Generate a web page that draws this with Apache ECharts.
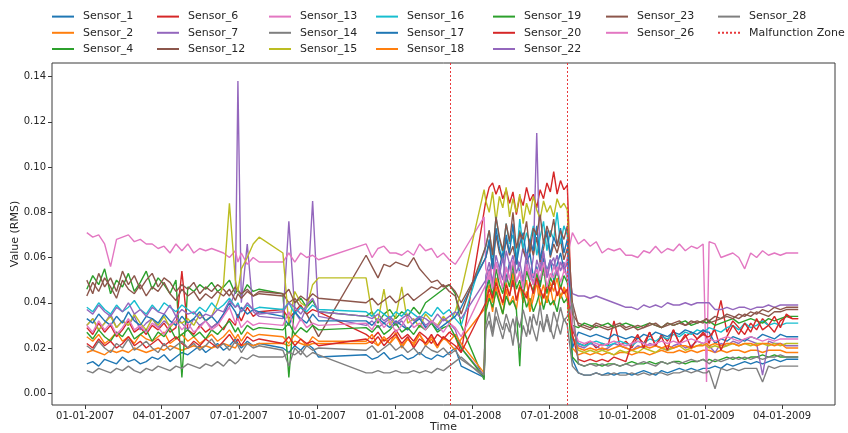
<!DOCTYPE html>
<html>
<head>
<meta charset="utf-8">
<script src="https://cdn.jsdelivr.net/npm/echarts/dist/echarts.min.js"></script>
<style>
html,body{margin:0;padding:0;background:#fff;}
#chart{width:848px;height:433px;}
</style>
</head>
<body>
<div id="chart"></div>
<script>
// ---------- DATA ----------
const dates = [
 '2007-01-03','2007-01-10','2007-01-17','2007-01-24','2007-01-31','2007-02-07','2007-02-14','2007-02-21','2007-02-28','2007-03-07',
 '2007-03-14','2007-03-21','2007-03-28','2007-04-04','2007-04-11','2007-04-18','2007-04-25','2007-05-02','2007-05-09','2007-05-16',
 '2007-05-23','2007-05-30','2007-06-06','2007-06-13','2007-06-20','2007-06-27','2007-06-30','2007-07-04','2007-07-11','2007-07-18',
 '2007-07-25','2007-08-01','2007-08-08','2007-08-15','2007-08-22','2007-08-29','2007-09-05','2007-09-12','2007-09-19','2007-09-26',
 '2007-10-03',
 '2007-11-28','2007-12-05','2007-12-12','2007-12-19','2007-12-26','2008-01-02','2008-01-09','2008-01-16','2008-01-23','2008-01-30',
 '2008-02-06','2008-02-13','2008-02-20','2008-02-27','2008-03-05','2008-03-12','2008-03-19',
 '2008-04-15','2008-04-17','2008-04-21','2008-04-25','2008-04-29','2008-05-03','2008-05-07','2008-05-11','2008-05-15','2008-05-19',
 '2008-05-23','2008-05-27','2008-05-31','2008-06-04','2008-06-08','2008-06-12','2008-06-16','2008-06-20','2008-06-24','2008-06-28',
 '2008-07-02','2008-07-06','2008-07-10','2008-07-14','2008-07-18','2008-07-22',
 '2008-07-28','2008-08-04','2008-08-11','2008-08-18','2008-08-25','2008-09-01','2008-09-08','2008-09-15','2008-09-22','2008-09-29',
 '2008-10-06','2008-10-13','2008-10-20','2008-10-27','2008-11-03','2008-11-10','2008-11-17','2008-11-24','2008-12-01','2008-12-08',
 '2008-12-15','2008-12-22','2008-12-29','2009-01-02','2009-01-05','2009-01-12','2009-01-19','2009-01-26','2009-02-02','2009-02-09',
 '2009-02-16','2009-02-23','2009-03-02','2009-03-09','2009-03-16','2009-03-23','2009-03-30','2009-04-06','2009-04-13','2009-04-20'
];

const sensorNames = ['Sensor_1','Sensor_2','Sensor_4','Sensor_6','Sensor_7','Sensor_12','Sensor_13','Sensor_14','Sensor_15',
  'Sensor_16','Sensor_17','Sensor_18','Sensor_19','Sensor_20','Sensor_22','Sensor_23','Sensor_26','Sensor_28'];

const sensor1 = [
 .013,.014,.012,.015,.014,.013,.016,.014,.015,.013, .014,.016,.015,.017,.014,.016,.018,.017,.019,.021,
 .018,.020,.022,.019,.021,.024,.022,.020,.023,.021, .022,null,null,null,.020,.018,.021,.019,.022,.020, .016,
 .017,.015,.016,.018,.015,.016,.017,.015,.016,.018, .016,.015,.017,.016,.018,.020,.012,
 .007,.045,.052,.060,.048,.055,.063,.050,.058,.047, .061,.053,.049,.057,.062,.051,.056,.048,.060,.054, .059,.050,.057,.062,.055,.058,
 .015,.009,.008,.008,.009,.008,.009,.008,.009,.009, .008,.009,.010,.009,.008,.010,.009,.010,.011,.010,
 .011,.010,.011,.011,.011,.012,.011,.013,.012,.013, .014,.013,.014,.013,.014,.015,.014,.015,.015,.015];
const sensor2 = [
 .018,.019,.018,.017,.019,.018,.019,.018,.020,.019, .018,.019,.020,.019,.021,.020,.019,.020,.021,.020,
 .021,.020,.021,.022,.021,.020,.022,.021,.022,.021, .022,null,null,null,.022,.021,.023,.022,.021,.022, .022,
 .022,.023,.021,.024,.022,.025,.021,.024,.022,.026, .021,.024,.020,.025,.022,.019,.024,
 null,.038,.044,.036,.047,.041,.035,.046,.039,.043, .037,.048,.040,.045,.036,.042,.049,.038,.044,.040, .047,.039,.045,.042,.046,.041,
 .020,.017,.018,.017,.018,.017,.018,.017,.018,.018, .017,.018,.018,.017,.018,.019,.018,.018,.019,.018,
 .019,.018,.019,.019,.019,.018,.019,.018,.019,.019, .018,.019,.019,.018,.019,.019,.019,.018,.018,.018];
const sensor4 = [
 .046,.052,.048,.055,.044,.050,.047,.053,.045,.049, .054,.046,.051,.048,.044,.050,.007,.047,.045,.048,
 .046,.049,.045,.047,.050,.044,.046,.043,.048,.045, .046,null,null,null,.044,.007,.040,.042,.038,.041, .036,
 .034,.036,.031,.035,.037,.033,.036,.034,.038,.035, .040,.042,.044,.046,.048,.044,.030,
 .006,.036,.042,.038,.045,.040,.035,.043,.039,.041, .037,.012,.044,.038,.042,.036,.040,.045,.037,.043, .039,.041,.036,.044,.040,.042,
 .016,.013,.012,.013,.013,.012,.013,.013,.012,.013, .014,.013,.013,.014,.013,.014,.013,.014,.014,.013,
 .014,.014,.015,.014,.015,.014,.015,.016,.015,.016, .015,.016,.016,.017,.016,.017,.016,.016,.016,.016];
const sensor6 = [
 .029,.026,.031,.027,.030,.025,.028,.032,.027,.029, .026,.030,.028,.031,.027,.029,.054,.028,.026,.030,
 .027,.029,.031,.028,.033,.030,.035,.032,.038,.034, .036,null,null,null,.037,.033,.036,.039,.035,.037, .036,
 .026,.024,.027,.023,.025,.028,.024,.026,.023,.027, .025,.022,.026,.024,.027,.025,.018,
 null,.085,.091,.093,.088,.092,.086,.090,.084,.089, .079,.087,.083,.091,.085,.088,.082,.090,.086,.093, .089,.098,.088,.094,.090,.092,
 .028,.022,.021,.023,.020,.022,.021,.032,.021,.023, .020,.025,.022,.027,.021,.026,.023,.028,.022,.025,
 .027,.024,.026,.025,.022,.030,.041,.027,.032,.029, .026,.031,.028,.033,.030,.027,.032,.034,.033,.033];
const sensor7 = [
 .030,.033,.028,.031,.035,.029,.032,.030,.034,.028, .031,.033,.029,.032,.030,.034,.031,.028,.033,.030,
 .032,.029,.031,.035,.038,.045,.138,.040,.066,.036, .034,null,null,null,.033,.076,.036,.032,.038,.085, .034,
 .030,.032,.029,.031,.033,.030,.032,.028,.031,.034, .030,.032,.029,.033,.031,.028,.020,
 .008,.052,.058,.049,.061,.055,.050,.063,.057,.052, .060,.056,.065,.058,.051,.060,.115,.055,.062,.053, .059,.056,.061,.054,.058,.050,
 .030,.021,.020,.022,.021,.019,.020,.022,.021,.020, .019,.021,.020,.022,.021,.020,.019,.021,.022,.020,
 .021,.023,.022,.021,.021,.018,.022,.021,.023,.022, .024,.023,.022,.008,.023,.022,.022,.021,.021,.021];
const sensor12 = [
 .050,.044,.053,.047,.051,.045,.054,.048,.052,.046, .050,.053,.047,.051,.049,.045,.048,.046,.049,.044,
 .047,.045,.048,.046,.043,.047,.045,.044,.046,.043, .045,null,null,null,.044,.040,.042,.038,.035,.030, .025,
 .061,.056,.051,.057,.056,.058,.057,.056,.060,.055, .052,.049,.050,.047,.048,.045,.040,
 null,.060,.066,.055,.070,.062,.058,.068,.061,.065, .057,.072,.063,.059,.067,.061,.069,.058,.064,.071, .060,.066,.062,.068,.059,.064,
 .035,.031,.030,.029,.031,.030,.029,.030,.031,.029, .030,.028,.029,.030,.031,.029,.030,.031,.032,.030,
 .031,.032,.031,.033,.032,.034,.033,.035,.034,.033, .035,.034,.036,.035,.034,.036,.036,.037,.037,.037];
const sensor13 = [
 .071,.069,.070,.066,.056,.068,.069,.070,.067,.068, .066,.066,.064,.065,.062,.066,.063,.066,.062,.064,
 .063,.064,.063,.062,.060,.063,.058,.062,.057,.060, .058,null,null,null,.058,.062,.058,.062,.060,.061, .059,
 .066,.060,.064,.065,.062,.062,.061,.063,.061,.066, .063,.064,.060,.062,.059,.057,.061,
 .078,.055,.050,.057,.048,.053,.046,.055,.051,.058, .049,.054,.047,.056,.050,.053,.048,.057,.052,.055, .050,.056,.053,.058,.054,.060,
 .071,.066,.068,.065,.067,.062,.064,.063,.064,.061, .061,.060,.063,.062,.065,.062,.064,.063,.066,.063,
 .065,.064,.066,.005,.067,.066,.060,.061,.062,.060, .055,.062,.060,.063,.061,.062,.061,.062,.062,.062];
const sensor14 = [
 .010,.009,.011,.010,.009,.011,.010,.012,.010,.009, .011,.010,.012,.011,.010,.012,.011,.013,.012,.011,
 .013,.012,.014,.012,.015,.013,.014,.016,.015,.017, .016,null,null,null,.016,.018,.017,.019,.016,.018, .017,
 .009,.009,.010,.009,.009,.010,.009,.009,.010,.009, .010,.009,.011,.010,.012,.014,.016,
 .007,.028,.032,.025,.034,.029,.024,.031,.027,.033, .026,.020,.030,.025,.034,.028,.023,.032,.027,.035, .029,.024,.031,.026,.033,.030,
 .012,.009,.008,.008,.009,.008,.008,.009,.008,.008, .009,.008,.009,.008,.009,.009,.008,.009,.009,.010,
 .009,.010,.009,.009,.010,.002,.011,.010,.011,.010, .011,.011,.011,.005,.012,.011,.012,.012,.012,.012];
const sensor15 = [
 .030,.033,.028,.031,.034,.029,.032,.030,.035,.031, .028,.033,.030,.034,.029,.032,.031,.033,.030,.035,
 .032,.034,.040,.048,.084,.050,.045,.055,.060,.066, .069,null,null,null,.062,.030,.045,.040,.038,.048, .051,
 .051,.035,.032,.046,.030,.034,.047,.031,.033,.029, .035,.032,.030,.034,.031,.036,.045,
 .090,.085,.080,.089,.076,.087,.082,.091,.078,.086, .080,.088,.075,.084,.079,.087,.081,.077,.085,.080, .083,.078,.086,.082,.084,.081,
 .025,.019,.018,.019,.018,.019,.018,.017,.019,.018, .019,.018,.020,.019,.018,.020,.019,.020,.021,.019,
 .020,.021,.022,.021,.020,.021,.020,.021,.022,.021, .022,.021,.022,.022,.021,.022,.021,.022,.022,.022];
const sensor16 = [
 .038,.036,.040,.037,.035,.039,.036,.038,.041,.037, .035,.039,.036,.040,.038,.036,.039,.037,.035,.038,
 .036,.040,.037,.039,.042,.038,.040,.036,.039,.037, .038,null,null,null,.037,.040,.035,.038,.036,.039, .037,
 .036,.034,.037,.035,.033,.036,.034,.037,.035,.033, .036,.034,.038,.035,.037,.033,.030,
 null,.065,.072,.060,.078,.068,.062,.075,.066,.070, .059,.077,.064,.071,.067,.074,.061,.069,.076,.063, .072,.068,.080,.066,.074,.070,
 .024,.022,.021,.022,.023,.022,.021,.022,.023,.022, .021,.023,.022,.024,.023,.025,.024,.026,.025,.027,
 .026,.028,.027,.028,.029,.028,.027,.029,.030,.028, .031,.029,.030,.032,.030,.031,.030,.031,.031,.031];
const sensor17 = [
 .033,.031,.035,.032,.030,.034,.031,.036,.032,.030, .034,.033,.031,.035,.032,.030,.034,.031,.033,.036,
 .032,.034,.031,.035,.040,.036,.033,.038,.035,.037, .036,null,null,null,.034,.030,.036,.033,.031,.035, .032,
 .032,.030,.033,.031,.029,.032,.030,.028,.031,.033, .029,.031,.028,.030,.032,.034,.038,
 null,.060,.068,.055,.073,.064,.058,.070,.062,.075, .057,.066,.071,.060,.068,.063,.074,.059,.067,.072, .061,.069,.065,.073,.062,.068,
 .020,.027,.026,.025,.026,.025,.024,.026,.025,.024, .025,.024,.026,.025,.027,.026,.025,.027,.026,.028,
 .027,.026,.028,.027,.027,.022,.024,.023,.025,.024, .023,.025,.024,.026,.025,.024,.026,.025,.025,.025];
const sensor18 = [
 .025,.023,.026,.022,.024,.027,.023,.025,.022,.026, .024,.023,.025,.027,.022,.024,.026,.023,.025,.022,
 .024,.026,.023,.025,.028,.024,.026,.023,.027,.025, .026,null,null,null,.025,.022,.026,.024,.021,.025, .023,
 .023,.026,.021,.025,.022,.027,.020,.024,.021,.026, .022,.025,.021,.024,.023,.026,.022,
 .009,.042,.048,.040,.051,.045,.039,.049,.043,.053, .041,.047,.044,.050,.038,.046,.052,.043,.048,.040, .049,.045,.051,.042,.047,.044,
 .025,.020,.019,.020,.019,.020,.019,.020,.021,.020, .019,.020,.021,.020,.021,.020,.021,.020,.021,.021,
 .020,.021,.021,.022,.021,.022,.021,.022,.022,.021, .022,.022,.021,.022,.022,.021,.022,.020,.020,.020];
const sensor19 = [
 .027,.024,.028,.025,.023,.027,.025,.029,.024,.026, .028,.023,.027,.025,.029,.024,.026,.028,.025,.027,
 .024,.028,.026,.029,.032,.027,.029,.026,.030,.028, .029,null,null,null,.028,.031,.026,.029,.027,.030, .028,
 .029,.027,.030,.026,.028,.031,.027,.029,.026,.030, .028,.031,.027,.029,.030,.025,.020,
 .007,.045,.050,.043,.055,.048,.044,.052,.047,.057, .046,.050,.043,.054,.049,.045,.053,.047,.056,.044, .051,.048,.055,.046,.052,.049,
 .030,.029,.031,.030,.029,.030,.031,.029,.030,.031, .030,.029,.030,.031,.030,.029,.031,.030,.031,.032,
 .030,.031,.032,.031,.032,.030,.031,.032,.033,.031, .032,.033,.032,.031,.033,.032,.033,.034,.034,.034];
const sensor20 = [
 .022,.020,.024,.021,.023,.020,.022,.025,.021,.023, .020,.022,.024,.021,.023,.025,.022,.020,.023,.021,
 .024,.022,.020,.023,.026,.022,.024,.021,.025,.023, .024,null,null,null,.022,.025,.021,.024,.022,.023, .021,
 .024,.022,.025,.021,.024,.026,.022,.025,.020,.024, .022,.026,.021,.025,.023,.021,.018,
 null,.040,.046,.042,.049,.044,.040,.048,.043,.050, .041,.047,.045,.042,.049,.044,.051,.046,.042,.048, .045,.050,.043,.047,.044,.046,
 .026,.015,.014,.015,.014,.015,.014,.016,.015,.014, .022,.026,.020,.027,.021,.025,.019,.028,.022,.026,
 .020,.024,.027,.025,.025,.028,.019,.025,.030,.026, .031,.027,.033,.028,.030,.034,.029,.035,.033,.033];
const sensor22 = [
 .037,.035,.039,.036,.034,.038,.036,.040,.035,.037, .034,.038,.036,.035,.039,.034,.037,.035,.036,.033,
 .035,.034,.037,.036,.041,.038,.039,.036,.040,.037, .035,null,null,null,.036,.040,.038,.035,.039,.042, .036,
 .034,.033,.035,.032,.034,.031,.033,.035,.032,.034, .033,.031,.035,.032,.034,.036,.033,
 null,.050,.055,.047,.058,.052,.060,.049,.056,.061, .053,.058,.050,.062,.055,.048,.059,.054,.063,.051, .057,.060,.052,.058,.055,.057,
 .044,.043,.043,.042,.043,.042,.041,.040,.039,.038, .038,.037,.039,.038,.039,.038,.040,.039,.039,.040,
 .039,.040,.040,.040,.040,.037,.037,.038,.037,.038, .038,.037,.038,.038,.039,.038,.039,.039,.039,.039];
const sensor23 = [
 .043,.049,.045,.051,.047,.042,.050,.046,.044,.048, .043,.047,.045,.049,.044,.041,.046,.043,.045,.041,
 .044,.042,.045,.043,.046,.041,.044,.042,.045,.043, .044,null,null,null,.043,.046,.040,.043,.041,.044, .042,
 .040,.042,.039,.041,.043,.040,.042,.044,.041,.043, .045,.047,.046,.048,.045,.043,.035,
 null,.065,.072,.061,.078,.069,.063,.075,.067,.080, .064,.071,.068,.076,.062,.073,.070,.079,.066,.074, .069,.077,.065,.072,.068,.074,
 .040,.030,.029,.028,.030,.029,.028,.029,.030,.028, .029,.030,.029,.031,.030,.029,.031,.030,.031,.030,
 .032,.031,.032,.033,.031,.032,.033,.034,.033,.035, .034,.036,.035,.037,.036,.038,.037,.038,.038,.038];
const sensor26 = [
 .030,.027,.032,.028,.031,.026,.029,.033,.028,.030, .027,.031,.029,.026,.030,.032,.028,.031,.027,.029,
 .032,.028,.030,.034,.038,.031,.033,.029,.032,.030, .031,null,null,null,.030,.036,.028,.033,.029,.031, .030,
 .031,.028,.033,.029,.032,.027,.030,.034,.029,.031, .028,.032,.030,.027,.031,.029,.025,
 null,.048,.054,.046,.058,.051,.047,.056,.050,.059, .049,.053,.046,.057,.052,.048,.055,.050,.058,.047, .053,.051,.056,.049,.054,.052,
 .030,.023,.022,.023,.022,.021,.022,.023,.022,.021, .022,.023,.022,.021,.022,.023,.022,.023,.022,.023,
 .024,.023,.022,.023,.024,.023,.024,.025,.024,.023, .024,.025,.024,.023,.024,.023,.024,.024,.024,.024];
const sensor28 = [
 .021,.019,.023,.020,.018,.022,.020,.024,.019,.021, .023,.020,.018,.022,.019,.021,.023,.020,.022,.019,
 .021,.024,.020,.022,.019,.023,.021,.018,.022,.020, .021,null,null,null,.019,.012,.020,.017,.021,.019, .020,
 .019,.021,.018,.020,.022,.019,.021,.018,.020,.017, .021,.019,.018,.020,.017,.019,.015,
 .008,.030,.036,.027,.038,.032,.028,.035,.030,.021, .034,.029,.037,.031,.026,.035,.030,.039,.028,.033, .027,.036,.031,.038,.032,.034,
 .040,.013,.012,.013,.012,.013,.012,.013,.012,.013, .012,.013,.014,.013,.012,.014,.013,.014,.013,.014,
 .015,.014,.015,.014,.013,.015,.014,.015,.016,.015, .016,.015,.016,.015,.016,.016,.017,.016,.016,.016];

const sensorValues = [sensor1, sensor2, sensor4, sensor6, sensor7, sensor12, sensor13, sensor14, sensor15,
  sensor16, sensor17, sensor18, sensor19, sensor20, sensor22, sensor23, sensor26, sensor28];

const malfunctionName = 'Malfunction Zone';
const malfunctionDates = ['2008-03-06', '2008-07-22'];

const xTickDates = ['2007-01-01','2007-04-01','2007-07-01','2007-10-01','2008-01-01',
  '2008-04-01','2008-07-01','2008-10-01','2009-01-01','2009-04-01'];
const yTickValues = [0, 0.02, 0.04, 0.06, 0.08, 0.10, 0.12, 0.14];

// ---------- STYLE ----------
const palette = ['#1f77b4','#ff7f0e','#2ca02c','#d62728','#9467bd','#8c564b','#e377c2','#7f7f7f','#bcbd22','#17becf'];
const FONT = 'DejaVu Sans';
const TEXT = '#262626';
const FRAME = '#3a3a3a';

sensorValues.forEach((arr, i) => {
  if (arr.length !== dates.length) throw new Error('length mismatch ' + sensorNames[i] + ' ' + arr.length + ' vs ' + dates.length);
});

const ts = dates.map(d => Date.parse(d));
const xMin = Date.UTC(2006, 10, 23);
const xMax = Date.UTC(2009, 5, 2, 8);
const xTicks = xTickDates.map(d => Date.parse(d));

function fmtDate(v) {
  const d = new Date(v);
  const mm = String(d.getUTCMonth() + 1).padStart(2, '0');
  const dd = String(d.getUTCDate()).padStart(2, '0');
  return mm + '-' + dd + '-' + d.getUTCFullYear();
}

const series = sensorNames.map((name, i) => ({
  name: name,
  type: 'line',
  data: sensorValues[i].map((v, k) => [ts[k], v]),
  symbol: 'none',
  showSymbol: false,
  connectNulls: true,
  lineStyle: { width: 1.4, color: palette[i % 10] },
  itemStyle: { color: palette[i % 10] },
  emphasis: { disabled: true },
  silent: true
}));

const malColor = '#e8383b';
const malLine = { color: malColor, width: 1, type: [2, 2] };
series.push({
  name: malfunctionName,
  type: 'line',
  data: [],
  symbol: 'none',
  color: malColor,
  lineStyle: malLine,
  itemStyle: { color: malColor },
  z: 5,
  markLine: {
    silent: true,
    symbol: ['none', 'none'],
    label: { show: false },
    lineStyle: malLine,
    z: 5,
    data: malfunctionDates.map(d => ({ xAxis: Date.parse(d), lineStyle: malLine }))
  }
});

const legendCols = [
  { left: 51, names: ['Sensor_1','Sensor_2','Sensor_4'] },
  { left: 156, names: ['Sensor_6','Sensor_7','Sensor_12'] },
  { left: 268, names: ['Sensor_13','Sensor_14','Sensor_15'] },
  { left: 375, names: ['Sensor_16','Sensor_17','Sensor_18'] },
  { left: 492, names: ['Sensor_19','Sensor_20','Sensor_22'] },
  { left: 605, names: ['Sensor_23','Sensor_26'] },
  { left: 717, names: ['Sensor_28', malfunctionName] }
];

const legends = legendCols.map(c => ({
  orient: 'vertical',
  left: c.left,
  top: 11,
  padding: 0,
  itemWidth: 22,
  itemHeight: 14,
  itemGap: 5,
  selectedMode: false,
  itemStyle: { color: 'rgba(0,0,0,0)', borderColor: 'rgba(0,0,0,0)', borderWidth: 0, opacity: 0 },
  textStyle: { fontFamily: FONT, fontSize: 11, color: TEXT, padding: [0, 0, 0, 4] },
  data: c.names
}));

const chart = echarts.init(document.getElementById('chart'), null, { renderer: 'canvas' });
chart.setOption({
  animation: false,
  backgroundColor: '#ffffff',
  legend: legends,
  grid: { left: 52, right: 13, top: 63, bottom: 28, show: true, borderColor: FRAME, borderWidth: 1,
          containLabel: false, outerBoundsMode: 'none' },
  xAxis: {
    type: 'value',
    min: xMin,
    max: xMax,
    name: 'Time',
    nameLocation: 'middle',
    nameGap: 17,
    nameMoveOverlap: false,
    nameTextStyle: { fontFamily: FONT, fontSize: 11, color: TEXT },
    axisLine: { show: false, onZero: false },
    splitLine: { show: false },
    axisTick: { show: true, length: 4, customValues: xTicks, lineStyle: { color: FRAME } },
    axisLabel: { customValues: xTicks, formatter: fmtDate, fontFamily: FONT, fontSize: 10, color: TEXT, margin: 6 }
  },
  yAxis: {
    type: 'value',
    min: -0.0052,
    max: 0.146,
    name: 'Value (RMS)',
    nameLocation: 'middle',
    nameRotate: 90,
    nameGap: 31,
    nameMoveOverlap: false,
    nameTextStyle: { fontFamily: FONT, fontSize: 11, color: TEXT },
    axisLine: { show: false, onZero: false },
    splitLine: { show: false },
    axisTick: { show: true, length: 4, customValues: yTickValues, lineStyle: { color: FRAME } },
    axisLabel: { customValues: yTickValues, formatter: v => v.toFixed(2), fontFamily: FONT, fontSize: 10, color: TEXT, margin: 6 }
  },
  series: series
});
</script>
</body>
</html>
